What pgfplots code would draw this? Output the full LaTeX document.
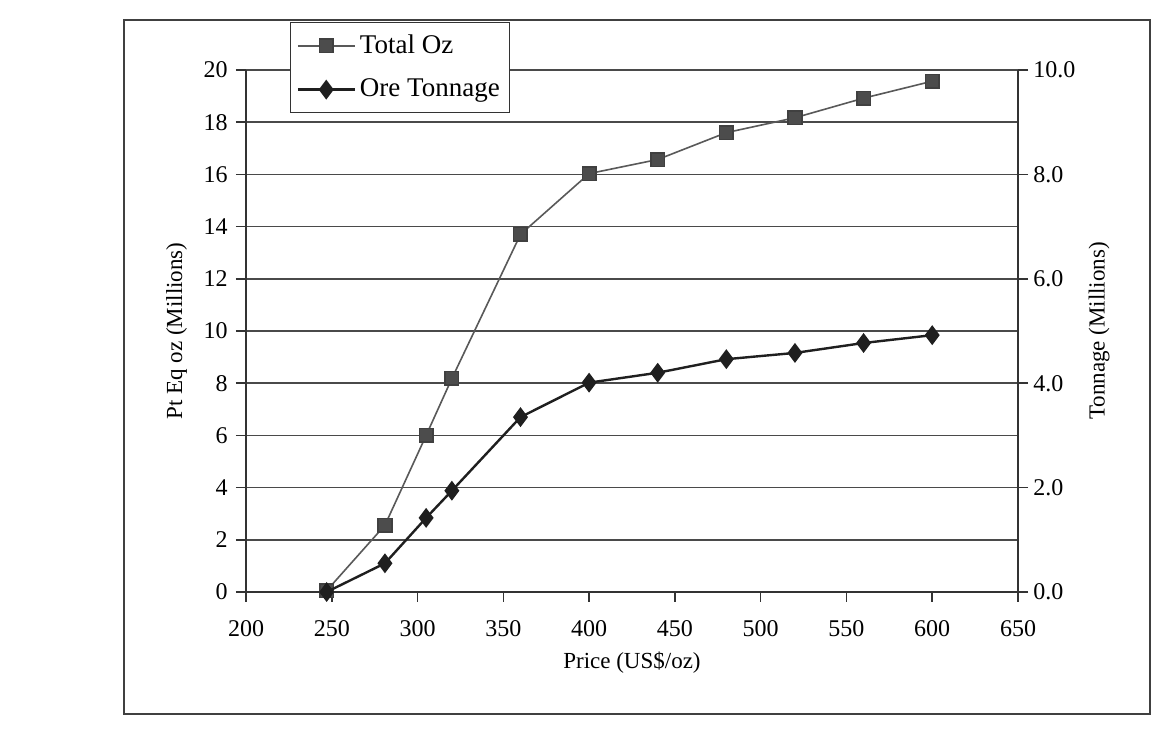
\documentclass[border=0pt]{standalone}
\usepackage{fontspec}
\setmainfont{Liberation Serif}
\usepackage{pgfplots}
\pgfplotsset{compat=1.18}
\definecolor{lineg}{HTML}{333333}
\definecolor{gridg}{HTML}{4A4A4A}
\begin{document}
\fontsize{12}{14}\selectfont
\begin{tikzpicture}
\path[use as bounding box] (-123pt,-69.5pt) rectangle (457.5pt,296pt);
\fill[white] (-123pt,-69.5pt) rectangle (457.5pt,296pt);
\draw[black!75, line width=0.8pt] (-61pt,-61pt) rectangle (452pt,286pt);
\pgfplotsset{
  common/.style={
    scale only axis, width=386pt, height=261pt,
    xmin=200, xmax=650, xtick distance=50,
    /pgf/number format/assume math mode=true,
    tick label style={font=\fontsize{12}{14}\selectfont},
    label style={font=\fontsize{11.5}{13}\selectfont},
    axis line style={lineg, line width=0.8pt},
    tick style={lineg, line width=0.8pt},
    tick align=outside, major tick length=5pt,
  }
}
\begin{axis}[common,
  axis y line*=left, axis x line*=bottom,
  ymin=0, ymax=20, ytick distance=2,
  ymajorgrids, grid style={gridg, line width=0.8pt},
  xlabel={Price (US\$/oz)}, ylabel={Pt Eq oz (Millions)},
  xlabel style={at={(axis description cs:0.5,-0.135)}, anchor=center},
  ylabel style={at={(axis description cs:-0.09,0.5)}, anchor=center},
  xticklabel style={yshift=-5pt},
]
\addplot[color=black!65, line width=0.8pt, mark=square*, mark size=3.4pt,
  mark options={fill=black!70, draw=black!75, solid}]
  coordinates {
  (247,0.05) (281,2.56) (305,6.0) (320,8.18) (360,13.7) (400,16.03)
  (440,16.57) (480,17.6) (520,18.17) (560,18.92) (600,19.57)
  };
\end{axis}
\begin{axis}[common,
  axis y line*=right, axis x line=none,
  ymin=0, ymax=10, ytick={0,2,...,10},
  yticklabel style={xshift=-1.5pt, /pgf/number format/.cd, fixed, fixed zerofill, precision=1},
  ylabel={Tonnage (Millions)},
  ylabel style={at={(axis description cs:1.105,0.5)}, anchor=center},
  legend style={at={(axis description cs:0.057,1.092)}, anchor=north west,
    draw=black!80, line width=0.6pt, fill=white,
    font=\fontsize{13.5}{15}\selectfont, inner xsep=3pt, inner ysep=4pt,
    row sep=7pt},
  legend cell align=left,
  legend image code/.code={\draw[mark repeat=2, mark phase=2, #1]
     plot coordinates {(0cm,0cm) (0.5cm,0cm) (1.0cm,0cm)};},
]
\addlegendimage{color=black!65, line width=0.8pt, mark=square*, mark size=3.4pt,
  mark options={fill=black!70, draw=black!75, solid}}
\addlegendentry{Total Oz}
\addplot[color=black!88, line width=1.2pt, mark=diamond*, mark size=4pt,
  mark options={fill=black!88, solid}]
  coordinates {
  (247,0.0) (281,0.55) (305,1.42) (320,1.94) (360,3.35) (400,4.01)
  (440,4.2) (480,4.46) (520,4.58) (560,4.77) (600,4.92)
  };
\addlegendentry{Ore Tonnage}
\end{axis}
\end{tikzpicture}
\end{document}
